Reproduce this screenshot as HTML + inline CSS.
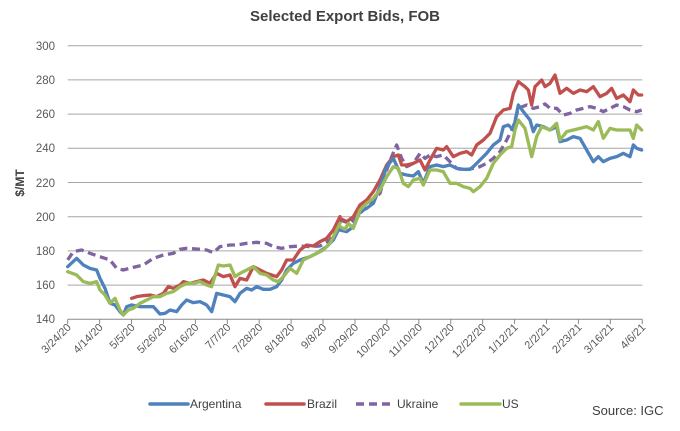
<!DOCTYPE html>
<html><head><meta charset="utf-8"><style>
body{margin:0;background:#fff;}
svg{display:block;font-family:"Liberation Sans",sans-serif;}
</style></head><body>
<svg width="680" height="431" viewBox="0 0 680 431" xmlns="http://www.w3.org/2000/svg">
<text x="345" y="21" text-anchor="middle" font-size="15" font-weight="bold" fill="#404040">Selected Export Bids, FOB</text>
<g stroke="#a6a6a6" stroke-width="1">
<line x1="67.7" x2="642.3" y1="45.7" y2="45.7"/><line x1="67.7" x2="642.3" y1="79.9" y2="79.9"/>
<line x1="67.7" x2="642.3" y1="114.1" y2="114.1"/><line x1="67.7" x2="642.3" y1="148.3" y2="148.3"/>
<line x1="67.7" x2="642.3" y1="182.5" y2="182.5"/><line x1="67.7" x2="642.3" y1="216.7" y2="216.7"/>
<line x1="67.7" x2="642.3" y1="250.9" y2="250.9"/><line x1="67.7" x2="642.3" y1="285.1" y2="285.1"/>
<line x1="67.7" x2="642.3" y1="319.3" y2="319.3" stroke="#888"/>
</g>
<g stroke="#888" stroke-width="1" id="ticks"></g>
<g font-size="11.5" fill="#595959" text-anchor="end">
<text x="55" y="50">300</text><text x="55" y="84">280</text><text x="55" y="118">260</text><text x="55" y="152">240</text><text x="55" y="187">220</text><text x="55" y="221">200</text><text x="55" y="255">180</text><text x="55" y="289">160</text><text x="55" y="323">140</text>
</g>
<text transform="translate(24,183) rotate(-90)" text-anchor="middle" font-size="12" font-weight="bold" fill="#404040">$/MT</text>
<g id="xl" font-size="11" fill="#595959" text-anchor="end"></g>
<g fill="none" stroke-linejoin="round" stroke-linecap="round">
<g transform="translate(0,30) scale(0.33333)" stroke-width="10">
<polyline stroke="#8064a2" stroke-dasharray="24,14" stroke-linecap="butt" points="203,690 220,665 245,660 270,670 300,680 330,690 350,715 370,720 400,712 430,705 460,685 490,675 520,670 540,658 560,655 590,657 620,660 640,668 660,650 690,645 710,645 740,640 770,637 800,640 820,650 845,655 870,650 900,648 930,650 960,648 990,630 1020,575"/>
<polyline stroke="#c0504d" points="395,805 410,800 430,797 450,795 470,800 490,790 505,770 520,775 540,765 550,755 570,760 590,755 610,750 630,760 650,730 670,740 690,735 705,770 720,745 740,750 760,710 780,720 800,730 815,735 830,740 845,720 860,690 880,690 900,660 920,645 940,648 960,635 980,625 1000,600 1020,560"/>
<polyline stroke="#4f81bd" points="203,710 230,685 250,705 270,715 290,720 300,745 315,775 330,820 345,825 360,845 370,855 380,830 395,825 420,830 440,830 460,830 480,852 495,850 510,840 530,845 545,825 560,810 580,818 600,815 620,825 635,845 650,790 670,795 690,800 705,815 720,790 740,775 755,780 770,770 790,778 810,778 830,770 845,750 860,720 880,700 900,690 930,680 950,670 965,660 980,650 1000,630 1020,590"/>
<polyline stroke="#9bbb59" points="203,725 230,735 250,755 270,760 290,755 300,780 315,795 330,820 345,805 360,840 370,855 385,840 400,835 420,820 440,810 460,800 480,800 500,790 520,785 540,770 560,760 580,760 600,755 620,765 635,770 655,705 670,708 690,705 705,740 720,730 740,720 760,710 780,730 800,735 820,750 835,755 850,740 870,715 890,730 910,690 930,680 950,670 970,660 990,640 1020,580"/>
</g>
<g transform="translate(340,30) scale(0.33333)" stroke-width="10">
<polyline stroke="#8064a2" stroke-dasharray="24,14" stroke-linecap="butt" points="0,570 30,580 60,550 80,530 100,510 120,490 140,420 155,380 170,345 185,385 200,410 220,400 240,370 255,385 270,375 290,380 310,375 330,395 350,415 370,420 400,415 420,410 440,400 460,385 480,365 500,330 520,290 535,235 560,225 580,235 600,230 615,222 630,235 650,235 670,255 690,250 710,240 730,235 750,230 770,235 790,245 810,235 830,225 850,230 870,240 890,245 905,240"/>
<polyline stroke="#c0504d" points="0,565 20,575 40,560 60,525 80,510 100,485 120,450 140,405 160,380 175,375 185,405 200,405 220,400 240,390 255,420 270,390 290,355 310,360 320,350 340,380 360,370 380,365 395,375 410,345 430,330 450,310 470,260 490,240 510,235 520,190 535,155 555,170 565,180 575,225 585,170 605,150 615,170 630,160 645,135 660,190 680,175 700,190 720,180 740,185 760,170 780,200 800,190 815,175 830,205 850,195 870,215 880,180 895,195 905,195"/>
<polyline stroke="#4f81bd" points="0,600 20,605 40,590 60,545 80,535 100,520 120,470 140,410 160,385 180,430 200,435 220,438 235,425 250,460 270,410 290,405 310,410 330,405 350,415 370,418 390,418 400,410 420,390 440,370 460,345 480,330 490,290 505,285 520,300 535,225 550,245 570,270 580,305 590,285 610,290 630,300 650,290 660,335 680,330 700,320 720,325 740,360 760,395 775,380 790,395 810,385 830,380 850,370 870,380 880,345 890,355 905,360"/>
<polyline stroke="#9bbb59" points="0,590 15,598 25,580 40,595 60,540 80,520 100,505 120,480 140,440 160,410 175,415 190,460 205,470 220,450 240,445 250,465 270,420 290,420 310,425 330,460 350,460 370,470 390,475 400,485 420,470 440,445 460,400 480,375 500,355 515,350 525,300 535,270 555,295 575,380 590,320 605,290 630,300 650,280 660,330 680,305 700,300 720,295 740,290 760,300 775,275 790,325 810,295 830,300 850,300 870,300 880,325 890,285 905,300"/>
</g>
</g>
<g font-size="12" fill="#404040">
<line x1="150" x2="188" y1="404" y2="404" stroke="#4f81bd" stroke-width="3.5" stroke-linecap="round"/><text x="190" y="408">Argentina</text>
<line x1="266" x2="304" y1="404" y2="404" stroke="#c0504d" stroke-width="3.5" stroke-linecap="round"/><text x="307" y="408">Brazil</text>
<line x1="356" x2="393" y1="404" y2="404" stroke="#8064a2" stroke-width="3.5" stroke-dasharray="8,5"/><text x="397" y="408">Ukraine</text>
<line x1="461" x2="500" y1="404" y2="404" stroke="#9bbb59" stroke-width="3.5" stroke-linecap="round"/><text x="502" y="408">US</text>
<text x="592" y="415" font-size="13">Source: IGC</text>
</g>
<script>
var labs=["3/24/20","4/14/20","5/5/20","5/26/20","6/16/20","7/7/20","7/28/20","8/18/20","9/8/20","9/29/20","10/20/20","11/10/20","12/1/20","12/22/20","1/12/21","2/2/21","2/23/21","3/16/21","4/6/21"];
var ns="http://www.w3.org/2000/svg",t=document.getElementById("ticks"),xl=document.getElementById("xl");
for(var i=0;i<19;i++){var x=67.7+31.92*i;
var l=document.createElementNS(ns,"line");l.setAttribute("x1",x);l.setAttribute("x2",x);l.setAttribute("y1",319.3);l.setAttribute("y2",324);t.appendChild(l);
var tx=document.createElementNS(ns,"text");tx.setAttribute("transform","translate("+(x+4)+",328) rotate(-45)");tx.textContent=labs[i];xl.appendChild(tx);}
</script>
</svg>
</body></html>
